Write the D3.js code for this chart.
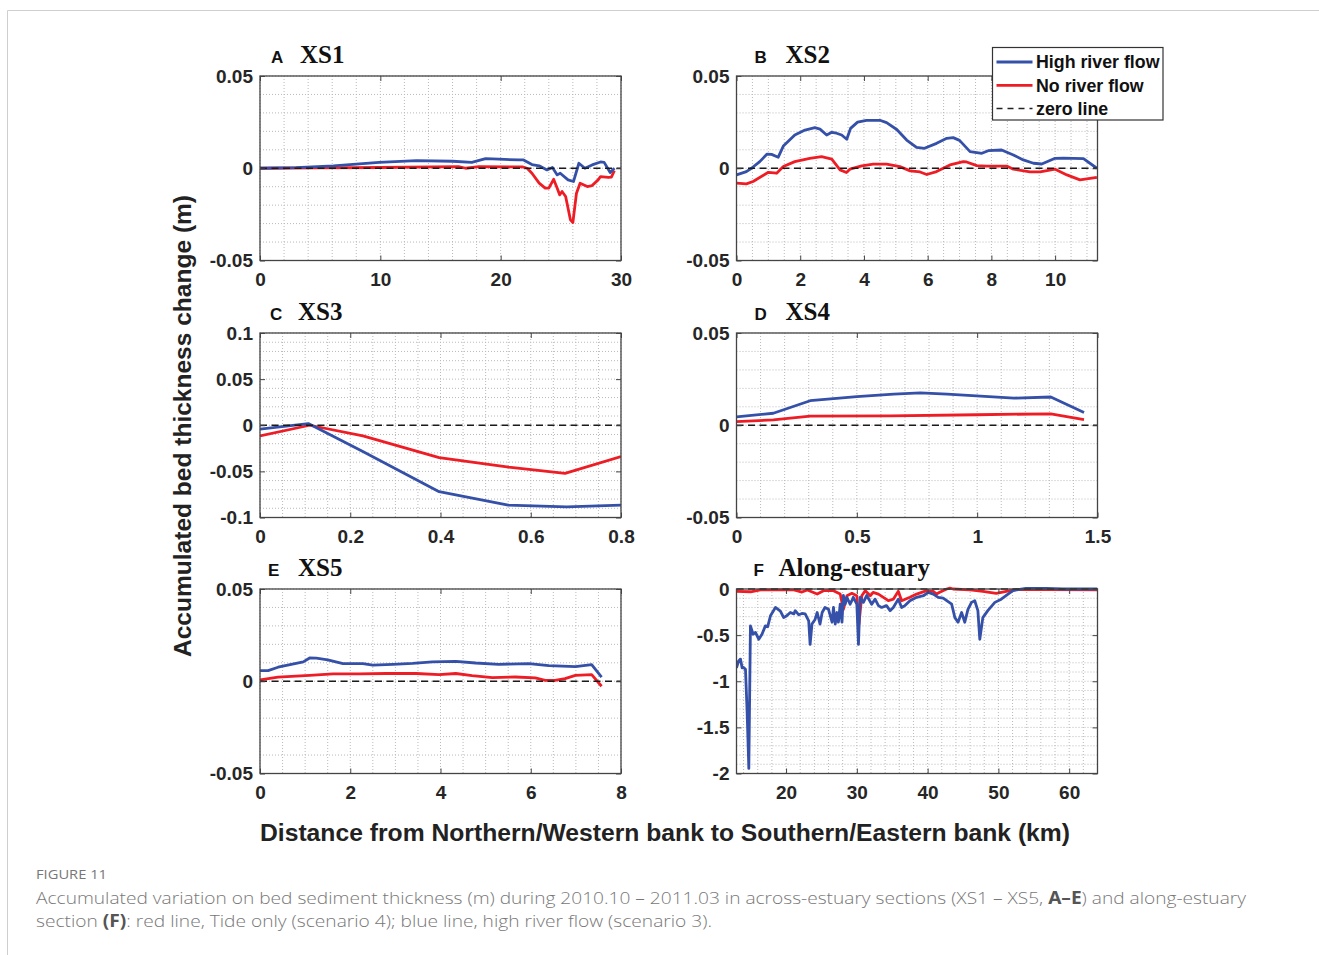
<!DOCTYPE html>
<html>
<head>
<meta charset="utf-8">
<script src="https://cdn.jsdelivr.net/npm/d3@7"></script>
<style>
  body { margin: 0; background: #fff; }
  svg { display: block; }
</style>
</head>
<body>
<svg id="chart" width="1319" height="955"></svg>
<script>
// values, [distance km, thickness change m]
const xs1High = [[0,0],[3,0.0003],[6.1,0.0013],[9.9,0.0032],[13,0.0041],[16,0.0038],[17.6,0.0032],[18.75,0.0052],[19.85,0.0049],[21.5,0.0045],[21.9,0.0045],[22.6,0.002],[23.2,0.0013],[23.85,-0.0009],[24.3,0.0004],[24.7,-0.0036],[24.95,-0.0027],[25.6,-0.0063],[26.05,-0.0072],[26.5,0.0027],[27.0,0],[27.6,0.0018],[28.3,0.0034],[28.6,0.0032],[29.1,-0.0023],[29.45,0]];
const xs1No = [[0,0],[5,0.0002],[10,0.0004],[16.5,0.0009],[17.1,0],[18.2,0.0009],[21.8,0.0007],[22.2,0],[22.6,-0.0027],[23.2,-0.0081],[23.7,-0.0108],[24.0,-0.0108],[24.4,-0.006],[24.7,-0.0108],[24.9,-0.0144],[25.1,-0.0126],[25.4,-0.0153],[25.8,-0.028],[26.0,-0.0294],[26.3,-0.0135],[26.6,-0.0081],[27.2,-0.0099],[27.6,-0.0094],[28.1,-0.0063],[28.3,-0.0045],[28.95,-0.005],[29.2,-0.0048],[29.45,-0.0013]];

const xs2High = [[0,-0.0036],[0.31,-0.0018],[0.47,0],[0.73,0.0036],[0.96,0.0077],[1.1,0.0075],[1.31,0.006],[1.47,0.012],[1.83,0.018],[2.15,0.0207],[2.46,0.022],[2.62,0.0212],[2.83,0.018],[2.99,0.0195],[3.14,0.019],[3.3,0.018],[3.46,0.0157],[3.58,0.0216],[3.8,0.025],[4.08,0.026],[4.5,0.026],[4.71,0.0247],[5.03,0.021],[5.34,0.0153],[5.65,0.0113],[5.9,0.0108],[6.28,0.0135],[6.6,0.0162],[6.8,0.0166],[7.0,0.0151],[7.33,0.009],[7.7,0.0081],[7.9,0.0095],[8.32,0.0099],[8.69,0.0072],[9.0,0.0045],[9.32,0.0027],[9.58,0.0023],[10.0,0.0054],[10.26,0.0055],[10.89,0.0052],[11.31,0]];
const xs2No = [[0,-0.0081],[0.31,-0.0085],[0.52,-0.0072],[1.0,-0.0022],[1.26,-0.0027],[1.47,0.0009],[1.83,0.0036],[2.3,0.0054],[2.67,0.0063],[2.99,0.0049],[3.25,-0.0009],[3.45,-0.0023],[3.56,-0.0005],[3.93,0.0013],[4.29,0.0022],[4.71,0.0022],[5.13,0.0009],[5.45,-0.0014],[5.76,-0.002],[5.97,-0.0034],[6.28,-0.0018],[6.7,0.0018],[7.12,0.0036],[7.22,0.0034],[7.54,0.0014],[7.85,0.0012],[8.48,0.0012],[8.69,-0.0005],[9.21,-0.002],[9.53,-0.002],[10.0,-0.0005],[10.37,-0.0036],[10.78,-0.0063],[11.31,-0.005]];

const xs3High = [[0,-0.0043],[0.107,0.0018],[0.23,-0.029],[0.397,-0.072],[0.55,-0.0866],[0.68,-0.0885],[0.8,-0.0866]];
const xs3No = [[0,-0.0116],[0.11,0],[0.228,-0.0116],[0.397,-0.035],[0.551,-0.0453],[0.676,-0.0522],[0.8,-0.034]];

const xs4High = [[0,0.0045],[0.153,0.0065],[0.306,0.0133],[0.5,0.0155],[0.653,0.0169],[0.764,0.0175],[0.875,0.0169],[1.153,0.0147],[1.306,0.0153],[1.444,0.0069]];
const xs4No = [[0,0.002],[0.153,0.0029],[0.306,0.0049],[0.64,0.0051],[1.0,0.0057],[1.306,0.0062],[1.444,0.0031]];

const xs5High = [[0,0.0058],[0.18,0.0058],[0.4,0.0076],[0.96,0.0105],[1.1,0.0126],[1.25,0.0125],[1.5,0.0116],[1.84,0.0096],[2.28,0.0096],[2.5,0.0087],[2.94,0.0092],[3.38,0.0097],[3.82,0.0105],[4.34,0.0108],[4.78,0.0099],[5.29,0.0092],[5.96,0.0096],[6.4,0.0085],[6.99,0.0079],[7.35,0.009],[7.57,0.0023]];
const xs5No = [[0,0.0007],[0.4,0.0022],[1.1,0.0032],[1.62,0.004],[2.2,0.004],[2.8,0.0042],[3.46,0.0042],[3.97,0.0036],[4.34,0.0042],[4.7,0.0031],[5.15,0.002],[5.66,0.0023],[6.1,0.0018],[6.32,0.0005],[6.54,0.0005],[6.76,0.0014],[6.99,0.0032],[7.35,0.0036],[7.57,-0.0027]];

const alongHigh = [[13,-0.855],[13.3,-0.78],[13.56,-0.76],[13.8,-0.855],[14.0,-0.85],[14.27,-0.87],[14.5,-1.33],[14.74,-1.945],[14.97,-0.4],[15.35,-0.49],[15.68,-0.47],[16.15,-0.545],[16.6,-0.49],[17.08,-0.4],[17.4,-0.41],[17.8,-0.29],[18.5,-0.2],[19.2,-0.24],[19.67,-0.31],[20.1,-0.29],[20.6,-0.255],[21.1,-0.27],[21.3,-0.235],[21.8,-0.28],[22.25,-0.265],[22.7,-0.27],[23.2,-0.345],[23.4,-0.6],[23.66,-0.38],[24.1,-0.33],[24.4,-0.255],[24.8,-0.38],[25.1,-0.255],[25.5,-0.2],[26.0,-0.22],[26.5,-0.36],[26.7,-0.2],[26.95,-0.38],[27.2,-0.255],[27.4,-0.36],[27.65,-0.165],[27.9,-0.36],[28.1,-0.07],[28.35,-0.165],[28.6,-0.09],[29.05,-0.165],[29.3,-0.127],[29.5,-0.09],[30.0,-0.165],[30.23,-0.6],[30.46,-0.09],[30.93,-0.145],[31.4,-0.07],[32.1,-0.165],[32.58,-0.11],[33.05,-0.18],[33.5,-0.2],[34.2,-0.18],[34.7,-0.235],[35.15,-0.2],[35.86,-0.11],[36.33,-0.2],[36.8,-0.18],[37.5,-0.127],[38.45,-0.09],[39.4,-0.073],[40.1,-0.036],[40.8,-0.055],[41.5,-0.09],[42.2,-0.1],[42.7,-0.127],[43.4,-0.165],[43.85,-0.31],[44.3,-0.36],[44.8,-0.255],[45.25,-0.36],[45.7,-0.22],[46.2,-0.145],[46.66,-0.127],[47.1,-0.235],[47.37,-0.545],[47.8,-0.31],[48.5,-0.235],[49.5,-0.145],[50.4,-0.11],[51.36,-0.055],[52.06,-0.018],[52.77,-0.007],[53.9,0.007],[56.75,0.007],[59.1,0],[64,0]];
const alongNo = [[13,-0.025],[15,-0.03],[16.4,-0.01],[21.1,-0.01],[22.25,-0.033],[23,-0.01],[24.4,-0.055],[25.3,-0.018],[26.7,-0.018],[27.65,-0.055],[28.1,-0.22],[28.6,-0.073],[29.3,-0.047],[30.0,-0.073],[30.3,-0.38],[30.7,-0.073],[31.2,-0.018],[31.9,-0.073],[32.3,-0.036],[33.05,-0.055],[33.75,-0.09],[34.45,-0.127],[35.15,-0.11],[35.86,-0.025],[36.33,-0.127],[37.5,-0.09],[38.45,-0.055],[39.86,-0.018],[40.8,-0.025],[41.26,-0.055],[41.7,-0.036],[42.7,0],[43.14,0.01],[43.6,0],[46,-0.01],[47.8,-0.025],[49.7,-0.047],[51.1,-0.025],[52.5,-0.007],[56.75,-0.007],[64,-0.01]];

const legendLabels = ["High river flow", "No river flow", "zero line"];

const panels = [
  { letter: "A", title: "XS1", col: 0, row: 0, xDom: [0, 30], yDom: [-0.05, 0.05], xTicks: [0, 10, 20, 30], yTicks: [-0.05, 0, 0.05], xGrid: 2, yGrid: 0.01, high: xs1High, no: xs1No, lx: 11, tx: 40 },
  { letter: "B", title: "XS2", col: 1, row: 0, xDom: [0, 11.33], yDom: [-0.05, 0.05], xTicks: [0, 2, 4, 6, 8, 10], yTicks: [-0.05, 0, 0.05], xGrid: 0.5, yGrid: 0.01, high: xs2High, no: xs2No, lx: 18, tx: 49 },
  { letter: "C", title: "XS3", col: 0, row: 1, xDom: [0, 0.8], yDom: [-0.1, 0.1], xTicks: [0, 0.2, 0.4, 0.6, 0.8], yTicks: [-0.1, -0.05, 0, 0.05, 0.1], xGrid: 0.05, yGrid: 0.01, high: xs3High, no: xs3No, lx: 10, tx: 38 },
  { letter: "D", title: "XS4", col: 1, row: 1, xDom: [0, 1.5], yDom: [-0.05, 0.05], xTicks: [0, 0.5, 1, 1.5], yTicks: [-0.05, 0, 0.05], xGrid: 0.1, yGrid: 0.01, high: xs4High, no: xs4No, lx: 18, tx: 49 },
  { letter: "E", title: "XS5", col: 0, row: 2, xDom: [0, 8], yDom: [-0.05, 0.05], xTicks: [0, 2, 4, 6, 8], yTicks: [-0.05, 0, 0.05], xGrid: 0.5, yGrid: 0.01, high: xs5High, no: xs5No, lx: 8, tx: 38 },
  { letter: "F", title: "Along-estuary", col: 1, row: 2, xDom: [13, 64], yDom: [-2, 0], xTicks: [20, 30, 40, 50, 60], yTicks: [-2, -1.5, -1, -0.5, 0], xGrid: 2, yGrid: 0.1, high: alongHigh, no: alongNo, lx: 17, tx: 42 }
];

const colLeft = [260, 736.5], rowTop = [76, 333, 589];
const W = 361, H = 184.5;
const blue = "#3550a8", red = "#ee1d25";
const tickFont = "bold 19px 'Liberation Sans', Arial, sans-serif";

const svg = d3.select("#chart");

// page frame
svg.append("path")
  .attr("d", "M7.5,960 V10.5 H1325")
  .attr("fill", "none").attr("stroke", "#cfcfcf").attr("stroke-width", 1);

function gridValues(dom, step) {
  const out = [];
  const start = Math.ceil(dom[0] / step - 1e-6);
  for (let k = start; k * step <= dom[1] + 1e-9; k++) out.push(+(k * step).toFixed(6));
  return out;
}

panels.forEach((p, i) => {
  const g = svg.append("g").attr("transform", `translate(${colLeft[p.col]},${rowTop[p.row]})`);
  const x = d3.scaleLinear().domain(p.xDom).range([0, W]);
  const y = d3.scaleLinear().domain(p.yDom).range([H, 0]);

  // grid
  const grid = g.append("g").attr("stroke", "#b9b9b9").attr("stroke-width", 1).attr("stroke-dasharray", "1,2");
  grid.selectAll("line.v").data(gridValues(p.xDom, p.xGrid)).enter().append("line")
    .attr("x1", d => x(d)).attr("x2", d => x(d)).attr("y1", 0).attr("y2", H);
  grid.selectAll("line.h").data(gridValues(p.yDom, p.yGrid)).enter().append("line")
    .attr("class", "h")
    .attr("y1", d => y(d)).attr("y2", d => y(d)).attr("x1", 0).attr("x2", W);

  // series
  g.append("clipPath").attr("id", "clip" + i).append("rect").attr("width", W).attr("height", H + 3).attr("y", -3);
  const line = d3.line().x(d => x(d[0])).y(d => y(d[1]));
  const lines = g.append("g").attr("clip-path", `url(#clip${i})`);
  lines.append("path").datum(p.no).attr("d", line)
    .attr("fill", "none").attr("stroke", red).attr("stroke-width", 2.8).attr("stroke-linejoin", "round");
  lines.append("path").datum(p.high).attr("d", line)
    .attr("fill", "none").attr("stroke", blue).attr("stroke-width", 2.8).attr("stroke-linejoin", "round");
  g.append("line")
    .attr("x1", 0).attr("x2", W).attr("y1", y(0)).attr("y2", y(0))
    .attr("stroke", "#1a1a1a").attr("stroke-width", 1.7).attr("stroke-dasharray", "7,4.5");

  // axes, ticks pointing inward as in the original
  const fmt = d => String(d);
  const xa = g.append("g").attr("transform", `translate(0,${H})`)
    .call(d3.axisBottom(x).tickValues(p.xTicks).tickFormat(fmt).tickSizeInner(-5).tickSizeOuter(0).tickPadding(12.5));
  const ya = g.append("g")
    .call(d3.axisLeft(y).tickValues(p.yTicks).tickFormat(fmt).tickSizeInner(-5).tickSizeOuter(0).tickPadding(7));
  g.append("g").call(d3.axisTop(x).tickValues(p.xTicks).tickFormat("").tickSizeInner(-5).tickSizeOuter(0));
  g.append("g").attr("transform", `translate(${W},0)`)
    .call(d3.axisRight(y).tickValues(p.yTicks).tickFormat("").tickSizeInner(-5).tickSizeOuter(0));
  g.selectAll(".domain").remove();
  g.selectAll(".tick line").attr("stroke", "#444");
  [xa, ya].forEach(a => a.selectAll("text").style("font", tickFont).attr("fill", "#262626"));

  g.append("rect").attr("width", W).attr("height", H)
    .attr("fill", "none").attr("stroke", "#444").attr("stroke-width", 1.3);

  // panel title
  g.append("text").attr("x", p.lx).attr("y", -13).text(p.letter)
    .style("font", "bold 17px 'Liberation Sans', Arial, sans-serif").attr("fill", "#111");
  g.append("text").attr("x", p.tx).attr("y", -13).text(p.title)
    .style("font", "bold 25px 'Liberation Serif', 'Times New Roman', serif").attr("fill", "#111");
});

// legend
const lg = svg.append("g").attr("transform", "translate(992.5,47.5)");
lg.append("rect").attr("width", 170.5).attr("height", 72.5)
  .attr("fill", "#fff").attr("stroke", "#333").attr("stroke-width", 1.2);
const legendStyles = [
  { stroke: blue, dash: null, w: 2.8 },
  { stroke: red, dash: null, w: 2.8 },
  { stroke: "#222", dash: "6,5", w: 1.5 }
];
legendLabels.forEach((t, k) => {
  const yy = 14.5 + k * 23.3;
  lg.append("line").attr("x1", 4).attr("x2", 40).attr("y1", yy).attr("y2", yy)
    .attr("stroke", legendStyles[k].stroke).attr("stroke-width", legendStyles[k].w)
    .attr("stroke-dasharray", legendStyles[k].dash);
  lg.append("text").attr("x", 43.5).attr("y", yy).attr("dy", "0.35em").text(t)
    .style("font", "bold 17.8px 'Liberation Sans', Arial, sans-serif").attr("fill", "#111");
});

// shared axis titles
svg.append("text")
  .attr("transform", "translate(191,426) rotate(-90)")
  .attr("text-anchor", "middle")
  .attr("textLength", 462).attr("lengthAdjust", "spacingAndGlyphs")
  .style("font", "bold 24px 'Liberation Sans', Arial, sans-serif").attr("fill", "#222")
  .text("Accumulated bed thickness change (m)");
svg.append("text")
  .attr("x", 665).attr("y", 841).attr("text-anchor", "middle")
  .attr("textLength", 810).attr("lengthAdjust", "spacingAndGlyphs")
  .style("font", "bold 23.5px 'Liberation Sans', Arial, sans-serif").attr("fill", "#222")
  .text("Distance from Northern/Western bank to Southern/Eastern bank (km)");

// caption
svg.append("text").attr("x", 36).attr("y", 879)
  .attr("textLength", 71).attr("lengthAdjust", "spacingAndGlyphs")
  .style("font", "13px 'Open Sans', sans-serif").attr("fill", "#777")
  .text("FIGURE 11");
const cap1 = svg.append("text").attr("x", 36).attr("y", 904)
  .attr("textLength", 1210).attr("lengthAdjust", "spacingAndGlyphs")
  .style("font", "300 17px 'Open Sans', sans-serif").attr("fill", "#777");
cap1.append("tspan").text("Accumulated variation on bed sediment thickness (m) during 2010.10 \u2013 2011.03 in across-estuary sections (XS1 \u2013 XS5, ");
cap1.append("tspan").attr("font-weight", "bold").attr("fill", "#555").text("A\u2013E");
cap1.append("tspan").text(") and along-estuary");
const cap2 = svg.append("text").attr("x", 36).attr("y", 927)
  .attr("textLength", 676).attr("lengthAdjust", "spacingAndGlyphs")
  .style("font", "300 17px 'Open Sans', sans-serif").attr("fill", "#777");
cap2.append("tspan").text("section ");
cap2.append("tspan").attr("font-weight", "bold").attr("fill", "#555").text("(F)");
cap2.append("tspan").text(": red line, Tide only (scenario 4); blue line, high river flow (scenario 3).");
</script>
</body>
</html>
